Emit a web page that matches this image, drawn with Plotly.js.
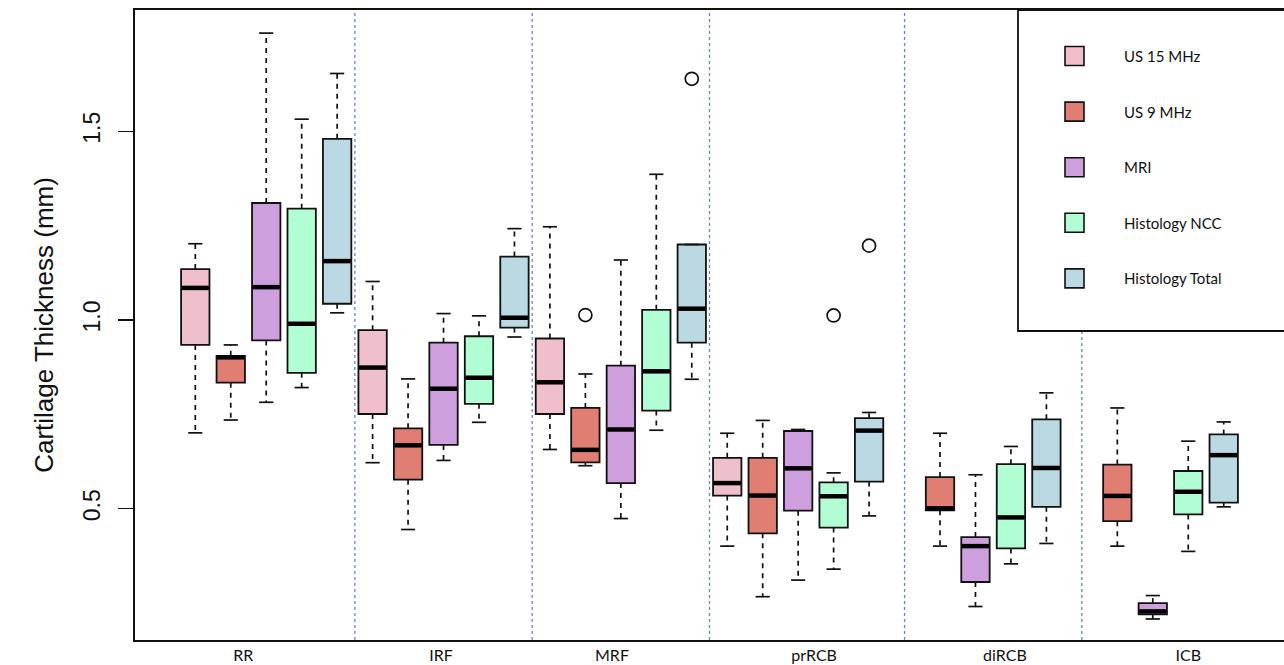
<!DOCTYPE html>
<html>
<head>
<meta charset="utf-8">
<script src="https://cdn.plot.ly/plotly-3.0.1.min.js"></script>
<style>
html,body{margin:0;padding:0;background:#ffffff;}
#chart{width:1284px;height:665px;}
</style>
</head>
<body>
<div id="chart"></div>
<script>
// ---------------- DATA ----------------
const categories = ['RR', 'IRF', 'MRF', 'prRCB', 'diRCB', 'ICB'];
const seriesNames = ['US 15 MHz', 'US 9 MHz', 'MRI', 'Histology NCC', 'Histology Total'];

// five-number summaries per category: [lower whisker, Q1, median, Q3, upper whisker]; null = not measured
const us15 = [
  [0.701, 0.934, 1.085, 1.135, 1.202],
  [0.622, 0.751, 0.874, 0.973, 1.102],
  [0.657, 0.751, 0.835, 0.951, 1.247],
  [0.401, 0.535, 0.568, 0.635, 0.700],
  null,
  null
];
const us9 = [
  [0.735, 0.834, 0.901, 0.905, 0.934],
  [0.445, 0.577, 0.668, 0.713, 0.844],
  [0.614, 0.623, 0.656, 0.767, 0.857],
  [0.267, 0.435, 0.535, 0.635, 0.734],
  [0.401, 0.496, 0.501, 0.584, 0.700],
  [0.401, 0.467, 0.534, 0.617, 0.767]
];
const mri = [
  [0.782, 0.946, 1.087, 1.310, 1.760],
  [0.628, 0.669, 0.818, 0.940, 1.017],
  [0.474, 0.568, 0.710, 0.879, 1.159],
  [0.311, 0.495, 0.607, 0.706, 0.710],
  [0.241, 0.306, 0.401, 0.425, 0.590],
  [0.208, 0.220, 0.228, 0.250, 0.270]
];
const histNCC = [
  [0.821, 0.860, 0.990, 1.295, 1.532],
  [0.729, 0.778, 0.847, 0.957, 1.011],
  [0.708, 0.760, 0.864, 1.027, 1.386],
  [0.340, 0.450, 0.533, 0.570, 0.595],
  [0.354, 0.395, 0.477, 0.618, 0.665],
  [0.387, 0.485, 0.545, 0.600, 0.679]
];
const histTotal = [
  [1.019, 1.043, 1.156, 1.480, 1.653],
  [0.955, 0.980, 1.006, 1.168, 1.242],
  [0.843, 0.940, 1.030, 1.200, 1.200],
  [0.481, 0.572, 0.707, 0.740, 0.755],
  [0.408, 0.505, 0.608, 0.737, 0.807],
  [0.505, 0.516, 0.642, 0.697, 0.730]
];

// outliers
const outlierCategory = ['MRF', 'MRF', 'prRCB', 'prRCB'];
const outlierSeries = ['US 9 MHz', 'Histology Total', 'Histology NCC', 'Histology Total'];
const outlierValues = [1.013, 1.639, 1.012, 1.197];

const yTickValues = [0.5, 1.0, 1.5];
const yTickLabels = ['0.5', '1.0', '1.5'];

// ---------------- STYLE / LAYOUT ----------------
const seriesData = [us15, us9, mri, histNCC, histTotal];
const seriesColors = ['#EFC0CB', '#E07E73', '#CDA0DD', '#B1FED5', '#BAD9E3'];
// the original's category labels sit slightly off the group centres (in slot units)
const categoryLabelSlots = [2.35, 7.93, 12.75, 18.45, 23.83, 29.0];
const W = 1284, H = 665;
const M = {l: 135, r: 0, t: 10, b: 25};
const plotW = W - M.l - M.r, plotH = H - M.t - M.b;
const pxX = p => (p - M.l) / plotW;          // pixel -> paper x
const pxY = p => (H - M.b - p) / plotH;      // pixel -> paper y
const BOXW = 0.8, CAPW = 0.2;
const nS = seriesNames.length;
const slotOf = (g, s) => g * nS + s + 1;

const traces = [];
const drawnSlots = categories.map(() => []);

seriesData.forEach((ser, s) => {
  const x = [], q1 = [], med = [], q3 = [], lo = [], hi = [];
  ser.forEach((st, g) => {
    if (!st) return;
    const xs = slotOf(g, s);
    drawnSlots[g].push(xs);
    x.push(xs); lo.push(st[0]); q1.push(st[1]); med.push(st[2]); q3.push(st[3]); hi.push(st[4]);
  });
  // box bodies
  traces.push({
    type: 'box', name: seriesNames[s], x: x,
    q1: q1, median: med, q3: q3, lowerfence: q1, upperfence: q3,
    width: BOXW, whiskerwidth: 0, boxpoints: false,
    fillcolor: seriesColors[s], line: {color: '#111', width: 1.8},
    showlegend: false, hoverinfo: 'skip'
  });
  // dashed whiskers
  const wx = [], wy = [];
  x.forEach((xs, i) => {
    wx.push(xs, xs, null, xs, xs, null);
    wy.push(q3[i], hi[i], null, q1[i], lo[i], null);
  });
  traces.push({type: 'scatter', mode: 'lines', x: wx, y: wy,
    line: {color: '#111', width: 1.7, dash: '5px,5px'}, showlegend: false, hoverinfo: 'skip'});
  // staples
  const cx = [], cy = [];
  x.forEach((xs, i) => {
    cx.push(xs - CAPW, xs + CAPW, null, xs - CAPW, xs + CAPW, null);
    cy.push(hi[i], hi[i], null, lo[i], lo[i], null);
  });
  traces.push({type: 'scatter', mode: 'lines', x: cx, y: cy,
    line: {color: '#111', width: 1.7}, showlegend: false, hoverinfo: 'skip'});
  // medians
  const mx = [], my = [];
  x.forEach((xs, i) => {
    mx.push(xs - BOXW / 2 + 0.02, xs + BOXW / 2 - 0.02, null);
    my.push(med[i], med[i], null);
  });
  traces.push({type: 'scatter', mode: 'lines', x: mx, y: my,
    line: {color: '#000', width: 4.5}, showlegend: false, hoverinfo: 'skip'});
});

// outliers
traces.push({
  type: 'scatter', mode: 'markers',
  x: outlierValues.map((v, i) => slotOf(categories.indexOf(outlierCategory[i]), seriesNames.indexOf(outlierSeries[i]))),
  y: outlierValues,
  marker: {symbol: 'circle-open', size: 13, color: '#111', line: {width: 1.7}},
  showlegend: false, hoverinfo: 'skip'
});

// group separators
const shapes = [];
for (let g = 0; g < categories.length - 1; g++) {
  const a = Math.max(...drawnSlots[g]);
  const b = Math.min(...drawnSlots[g + 1]);
  const sx = (a + b) / 2;
  shapes.push({type: 'line', xref: 'x', yref: 'paper', x0: sx, x1: sx, y0: 0, y1: 1,
    line: {color: '#5F86DE', width: 1.3, dash: 'dot'}, layer: 'below'});
}

// legend box (drawn manually to match the original layout)
shapes.push({type: 'rect', xref: 'paper', yref: 'paper', x0: pxX(1018), x1: pxX(1300), y0: pxY(331), y1: pxY(10),
  line: {color: '#111', width: 1.8}, fillcolor: '#ffffff', layer: 'above'});
const annotations = [];
const legY0 = 56, legStep = 55.6;
seriesNames.forEach((nm, s) => {
  const cy = legY0 + s * legStep;
  shapes.push({type: 'rect', xref: 'paper', yref: 'paper',
    x0: pxX(1065), x1: pxX(1084), y0: pxY(cy + 9.5), y1: pxY(cy - 9.5),
    line: {color: '#111', width: 1.6}, fillcolor: seriesColors[s], layer: 'above'});
  annotations.push({xref: 'paper', yref: 'paper', x: pxX(1122), y: pxY(cy), xanchor: 'left', yanchor: 'middle',
    text: nm, showarrow: false, font: {family: 'Lato, "Open Sans", sans-serif', size: 15, color: '#111'}});
});

const layout = {
  width: W, height: H,
  margin: M,
  paper_bgcolor: '#ffffff', plot_bgcolor: '#ffffff',
  showlegend: false,
  boxmode: 'overlay',
  xaxis: {
    range: [-0.7, 31.7], showgrid: false, zeroline: false,
    showline: true, mirror: true, linecolor: '#111', linewidth: 1.8,
    tickmode: 'array', tickvals: categoryLabelSlots, ticktext: categories,
    ticks: '', ticklabelstandoff: 0,
    tickfont: {family: 'Lato, "Open Sans", sans-serif', size: 16, color: '#111'}
  },
  yaxis: {
    range: [0.1523, 1.8212], showgrid: false, zeroline: false,
    showline: true, mirror: false, linecolor: '#111', linewidth: 1.8,
    tickmode: 'array', tickvals: yTickValues, ticktext: yTickLabels,
    ticks: 'outside', ticklen: 15, tickwidth: 1.4, tickcolor: '#111',
    tickangle: -90, ticklabelstandoff: 9,
    tickfont: {family: '"Liberation Sans", Arial, sans-serif', size: 23, color: '#111'},
    title: {text: 'Cartilage Thickness (mm)', standoff: 18,
      font: {family: '"Liberation Sans", Arial, sans-serif', size: 26, color: '#111'}}
  },
  shapes: shapes,
  annotations: annotations
};

Plotly.newPlot('chart', traces, layout, {displayModeBar: false, staticPlot: true});
</script>
</body>
</html>
